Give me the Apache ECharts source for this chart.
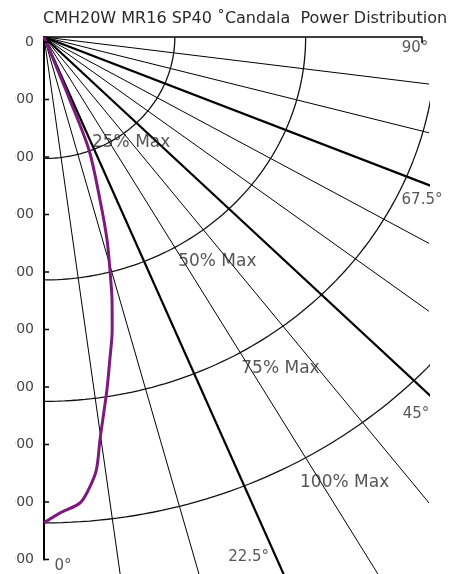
<!DOCTYPE html>
<html>
<head>
<meta charset="utf-8">
<script src="https://cdn.jsdelivr.net/npm/echarts@6/dist/echarts.min.js"></script>
<style>
  html, body { margin: 0; padding: 0; background: #fff; }
  #chart { width: 451px; height: 574px; }
</style>
</head>
<body>
<div id="chart"></div>
<script>
// Candela curve: angle from nadir (degrees) and luminous intensity (cd)
const beamAngles  = [0, 1.8, 4.1, 5.2, 6.4, 7.35, 8.1, 9.4, 10.7, 12.2, 13.5, 14.6, 16.1, 17.7, 20.3, 20.9, 21.4];
const beamCandela = [8450, 8280, 8125, 7910, 7580, 7065, 6730, 6220, 5720, 5210, 4705, 4240, 3670, 2975, 2095, 1175, 0];

// Candela scale tick values
const candelaTicks = [0, 1000, 2000, 3000, 4000, 5000, 6000, 7000, 8000, 9000];

// Iso-intensity rings as fractions of the peak
const ringLevels = [0.25, 0.5, 0.75, 1.0];
const ringNames  = ['25% Max', '50% Max', '75% Max', '100% Max'];

// Radial guide lines (degrees from nadir) and which are drawn heavy
const rayAngles  = [7.5, 15, 22.5, 30, 37.5, 45, 52.5, 60, 67.5, 75, 82.5];
const heavyRays  = [22.5, 45, 67.5];

// Angle captions
const captionAngles = [0, 22.5, 45, 67.5, 90];
const captionTexts  = ['0°', '22.5°', '45°', '67.5°', '90°'];

// ---- layout ----
const FONT = 'DejaVu Sans';
const ORIGIN_X = 44, ORIGIN_Y = 37;
const PX_PER_CD_Y = 0.0575;
const PX_PER_CD_X = PX_PER_CD_Y * 1.077;
const PLOT_W = 384, PLOT_H = 546;
const X_MAX = PLOT_W / PX_PER_CD_X;
const Y_MAX = PLOT_H / PX_PER_CD_Y;
const TICK_TOP = 42, TICK_STEP_PX = 57.5, TICK_LEN = 5;
const FRAME_W = 378;
const captionOffsets = [[19, -17], [-39, -26], [-12, 21], [-6, 15], [-13, 11]];
const ringLabelAngle = 34;
const ringLabelOffsets = [[14, 5], [27, 23], [17, 29], [8, 43]];

const rad = d => d * Math.PI / 180;
const polar = (deg, r) => [r * Math.sin(rad(deg)), r * Math.cos(rad(deg))];
const peak = Math.max.apply(null, beamCandela);

// point where a ray leaves the plotting rectangle
function rayExit(deg) {
  const s = Math.sin(rad(deg)), c = Math.cos(rad(deg));
  const t = Math.min(s > 1e-9 ? X_MAX / s : Infinity, c > 1e-9 ? Y_MAX / c : Infinity);
  return [t * s, t * c];
}

const series = [];

rayAngles.forEach(a => {
  series.push({
    type: 'line', xAxisIndex: 2, yAxisIndex: 2, symbol: 'none', silent: true,
    clip: true,
    data: [[0, 0], polar(a, 30000)],
    lineStyle: { color: '#000', width: heavyRays.indexOf(a) >= 0 ? 2.2 : 1 },
    z: 2
  });
});

ringLevels.forEach(level => {
  const pts = [];
  for (let d = 0; d <= 90; d += 1) pts.push(polar(d, level * peak));
  series.push({
    type: 'line', xAxisIndex: 2, yAxisIndex: 2, symbol: 'none', silent: true,
    clip: true, data: pts,
    lineStyle: { color: '#111', width: 1.3 },
    z: 2
  });
});

series.push({
  type: 'line', xAxisIndex: 2, yAxisIndex: 2, symbol: 'none', silent: true,
  clip: true, smooth: 0.3,
  data: beamAngles.map((a, i) => polar(a, beamCandela[i])),
  lineStyle: { color: '#7d1a7d', width: 3 },
  z: 4
});

// tick marks of the candela scale, expressed in the geometry grid's units
const scaleShift = (TICK_TOP - ORIGIN_Y) / PX_PER_CD_Y;
const cdPerScaleUnit = (TICK_STEP_PX / (candelaTicks[1] - candelaTicks[0])) / PX_PER_CD_Y;
const tickDx = TICK_LEN / PX_PER_CD_X;
candelaTicks.forEach(v => {
  const y = scaleShift + v * cdPerScaleUnit;
  series.push({
    type: 'line', xAxisIndex: 2, yAxisIndex: 2, symbol: 'none', silent: true,
    clip: false, data: [[0, y], [tickDx, y]],
    lineStyle: { color: '#000', width: 1.5 },
    z: 6
  });
});

// end tick of the 90° axis, pointing down
series.push({
  type: 'line', xAxisIndex: 2, yAxisIndex: 2, symbol: 'none', silent: true,
  clip: false,
  data: [[FRAME_W / PX_PER_CD_X, 0], [FRAME_W / PX_PER_CD_X, 6 / PX_PER_CD_Y]],
  lineStyle: { color: '#000', width: 1.5 },
  z: 6
});

series.push({
  type: 'scatter', xAxisIndex: 2, yAxisIndex: 2, silent: true, clip: false,
  symbolSize: 1, itemStyle: { color: 'rgba(0,0,0,0)' },
  data: captionAngles.map((a, i) => ({
    value: rayExit(a),
    label: { show: true, formatter: captionTexts[i], position: 'inside', offset: captionOffsets[i] }
  })),
  label: { color: '#2a2a2a', fontFamily: FONT, fontSize: 15 },
  z: 5
});

series.push({
  type: 'scatter', xAxisIndex: 2, yAxisIndex: 2, silent: true, clip: false,
  symbolSize: 1, itemStyle: { color: 'rgba(0,0,0,0)' },
  data: ringLevels.map((lv, i) => ({
    value: polar(ringLabelAngle, lv * peak),
    label: { show: true, formatter: ringNames[i], position: 'inside', offset: ringLabelOffsets[i] }
  })),
  label: { color: '#2a2a2a', fontFamily: FONT, fontSize: 17 },
  z: 5
});

const hidden = { show: false };
const blackLine = w => ({ show: true, onZero: false, lineStyle: { color: '#000', width: w } });
const option = {
  animation: false,
  backgroundColor: '#fff',
  title: {
    text: 'CMH20W MR16 SP40 ˚Candala  Power Distribution',
    left: 38, top: 6,
    textStyle: { fontFamily: FONT, fontSize: 16, fontWeight: 'normal', color: '#2a2a2a' }
  },
  grid: [
    // top frame: horizontal 90° axis plus the short stretch of the left axis above the scale
    { left: ORIGIN_X, top: ORIGIN_Y, width: FRAME_W, height: TICK_TOP - ORIGIN_Y, outerBoundsMode: 'none' },
    // candela scale
    { left: ORIGIN_X, top: TICK_TOP, width: FRAME_W, height: TICK_STEP_PX * (candelaTicks.length - 1), outerBoundsMode: 'none' },
    // polar geometry
    { left: ORIGIN_X, top: ORIGIN_Y, width: PLOT_W, height: PLOT_H, outerBoundsMode: 'none' }
  ],
  xAxis: [
    { gridIndex: 0, type: 'value', position: 'top', min: 0, max: 1, interval: 1,
      axisLine: blackLine(1.5), axisTick: hidden, axisLabel: hidden, splitLine: hidden },
    { gridIndex: 1, type: 'value', min: 0, max: 1,
      axisLine: hidden, axisTick: hidden, axisLabel: hidden, splitLine: hidden },
    { gridIndex: 2, type: 'value', show: false, min: 0, max: X_MAX }
  ],
  yAxis: [
    { gridIndex: 0, type: 'value', inverse: true, min: 0, max: 1,
      axisLine: blackLine(2), axisTick: hidden, axisLabel: hidden, splitLine: hidden },
    { gridIndex: 1, type: 'value', inverse: true, position: 'left',
      min: candelaTicks[0], max: candelaTicks[candelaTicks.length - 1],
      interval: candelaTicks[1] - candelaTicks[0],
      axisLine: blackLine(2),
      axisTick: hidden,
      axisLabel: { show: true, margin: 10, color: '#444', fontFamily: FONT, fontSize: 14,
                   formatter: v => String(v) },
      splitLine: hidden },
    { gridIndex: 2, type: 'value', inverse: true, show: false, min: 0, max: Y_MAX }
  ],
  graphic: [
    // left page edge trims the scale labels
    { type: 'rect', left: 0, top: 70, shape: { width: 15, height: 504 },
      style: { fill: '#fff' }, z: 100 }
  ],
  series: series
};

echarts.init(document.getElementById('chart'), null, { renderer: 'canvas' }).setOption(option);
</script>
</body>
</html>
